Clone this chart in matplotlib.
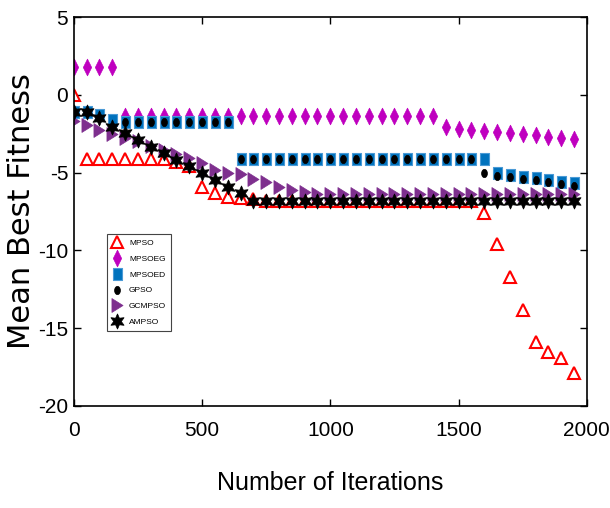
import matplotlib
matplotlib.use('Agg')
import matplotlib.pyplot as plt
from matplotlib.path import Path
from matplotlib.transforms import Affine2D

iterations = [0, 50, 100, 150, 200, 250, 300, 350, 400, 450,
              500, 550, 600, 650, 700, 750, 800, 850, 900, 950,
              1000, 1050, 1100, 1150, 1200, 1250, 1300, 1350, 1400, 1450,
              1500, 1550, 1600, 1650, 1700, 1750, 1800, 1850, 1900, 1950]

mpso = [0.0, -4.1, -4.1, -4.1, -4.1, -4.1, -4.1, -4.1, -4.3, -4.6,
        -5.9, -6.3, -6.55, -6.6, -6.7, -6.8, -6.8, -6.8, -6.8, -6.8,
        -6.8, -6.8, -6.8, -6.8, -6.8, -6.8, -6.8, -6.8, -6.8, -6.8,
        -6.8, -6.8, -7.6, -9.6, -11.7, -13.8, -15.9, -16.5, -16.9, -17.9]

mpsoeg = [1.8, 1.8, 1.8, 1.8, -1.35, -1.35, -1.35, -1.35, -1.35, -1.35,
          -1.35, -1.35, -1.35, -1.35, -1.35, -1.35, -1.35, -1.35, -1.35, -1.35,
          -1.35, -1.35, -1.35, -1.35, -1.35, -1.35, -1.35, -1.35, -1.35, -2.1,
          -2.2, -2.26, -2.33, -2.4, -2.47, -2.54, -2.6, -2.69, -2.75, -2.85]

mpsoed = [-1.1, -1.1, -1.3, -1.6, -1.75, -1.75, -1.75, -1.75, -1.75, -1.75,
          -1.75, -1.75, -1.75, -4.1, -4.1, -4.1, -4.1, -4.1, -4.1, -4.1,
          -4.1, -4.1, -4.1, -4.1, -4.1, -4.1, -4.1, -4.1, -4.1, -4.1,
          -4.1, -4.1, -4.1, -5.0, -5.15, -5.26, -5.35, -5.47, -5.58, -5.67]

gpso = [-1.1, -1.1, -1.5, -2.05, -1.75, -1.75, -1.75, -1.75, -1.75, -1.75,
        -1.75, -1.75, -1.75, -4.1, -4.1, -4.1, -4.1, -4.1, -4.1, -4.1,
        -4.1, -4.1, -4.1, -4.1, -4.1, -4.1, -4.1, -4.1, -4.1, -4.1,
        -4.1, -4.1, -5.0, -5.2, -5.26, -5.4, -5.5, -5.6, -5.73, -5.86]

gcmpso = [-1.7, -1.94, -2.26, -2.5, -2.8, -3.0, -3.3, -3.55, -3.8, -4.08,
          -4.4, -4.83, -5.05, -5.1, -5.4, -5.6, -5.9, -6.1, -6.25, -6.4,
          -6.4, -6.4, -6.4, -6.4, -6.4, -6.4, -6.4, -6.4, -6.4, -6.4,
          -6.4, -6.4, -6.4, -6.4, -6.4, -6.4, -6.4, -6.4, -6.4, -6.4]

ampso = [-1.08, -1.1, -1.5, -2.05, -2.48, -2.9, -3.33, -3.77, -4.2, -4.6,
         -5.05, -5.5, -5.9, -6.33, -6.8, -6.8, -6.8, -6.8, -6.8, -6.8,
         -6.8, -6.8, -6.8, -6.8, -6.8, -6.8, -6.8, -6.8, -6.8, -6.8,
         -6.8, -6.8, -6.8, -6.8, -6.8, -6.8, -6.8, -6.8, -6.8, -6.8]

narrow = ['Liberation Sans Narrow', 'Liberation Sans', 'DejaVu Sans']

# tall marker shapes
tall_diamond = Path([(0, 1), (0.5, 0), (0, -1), (-0.5, 0), (0, 1)], closed=True)
tall_square = Path([(-0.72, -1), (0.72, -1), (0.72, 1), (-0.72, 1), (-0.72, -1)], closed=True)
tall_dot = Path.unit_circle().transformed(Affine2D().scale(0.7, 1.0))
right_tri = Path([(-0.8, 1), (0.8, 0), (-0.8, -1), (-0.8, 1)], closed=True)

fig = plt.figure(figsize=(6.10, 5.08), dpi=100)
ax = fig.add_axes([0.121, 0.2008, 0.841, 0.7657])

ax.plot(iterations, mpso, linestyle='none', marker='^', ms=8, mfc='white',
        mec='#ff0000', mew=1.5, label='MPSO')
ax.plot(iterations, mpsoeg, linestyle='none', marker=tall_diamond, ms=12,
        mfc='#bf00bf', mec='#bf00bf', mew=0.5, label='MPSOEG')
ax.plot(iterations, mpsoed, linestyle='none', marker=tall_square, ms=9,
        mfc='#0072bd', mec='#4a9ad6', mew=0.8, label='MPSOED')
ax.plot(iterations, gpso, linestyle='none', marker=tall_dot, ms=6,
        mfc='black', mec='black', mew=0.5, label='GPSO')
ax.plot(iterations, gcmpso, linestyle='none', marker=right_tri, ms=10,
        mfc='#7e2f8e', mec='#7e2f8e', mew=0.5, label='GCMPSO')
ax.plot(iterations, ampso, linestyle='none', marker=(6, 1, 0), ms=11,
        mfc='black', mec='black', mew=0.5, label='AMPSO')

ax.set_xlim(0, 2000)
ax.set_ylim(-20, 5)
ax.set_xticks([0, 500, 1000, 1500, 2000])
ax.set_yticks([-20, -15, -10, -5, 0, 5])
ax.set_yticklabels(['-20', '-15', '-10', '-5', '0', '5'])

ax.tick_params(direction='in', top=True, right=True, length=5, width=1,
               labelsize=15, pad=4)
ax.tick_params(axis='x', pad=11)
for lbl in ax.get_xticklabels() + ax.get_yticklabels():
    lbl.set_family(narrow)
for sp in ax.spines.values():
    sp.set_linewidth(1.2)

ax.set_xlabel('Number of Iterations', family=narrow, fontsize=18, labelpad=22)
ax.set_ylabel('Mean Best Fitness', family='DejaVu Sans', fontsize=22)
ax.yaxis.set_label_coords(-0.074, 0.5)

leg = ax.legend(loc='upper left', bbox_to_anchor=(0.057, 0.452), numpoints=1,
                prop={'family': narrow, 'size': 6}, fancybox=False,
                framealpha=1, edgecolor='#444444', handlelength=1.2,
                handletextpad=0.8, labelspacing=0.95, borderpad=0.6)
leg.get_frame().set_linewidth(0.8)

plt.savefig('out.png', dpi=100)
